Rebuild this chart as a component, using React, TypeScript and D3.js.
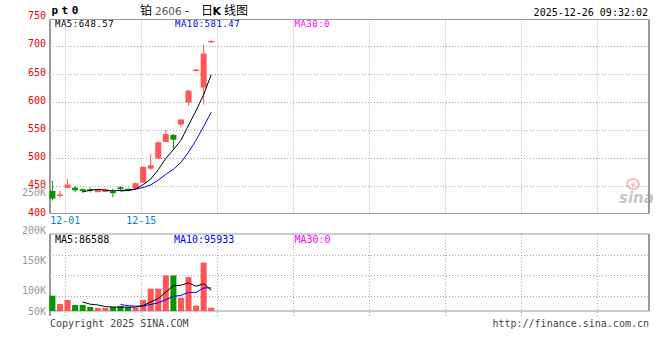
import React from "react";
import * as d3 from "d3";

// ---------- data ----------
const dates = ["11-27","11-28","12-01","12-02","12-03","12-04","12-05","12-08","12-09","12-10","12-11","12-12","12-15","12-16","12-17","12-18","12-19","12-22","12-23","12-24","12-25","12-26"];
const opens = [441.8,435.3,447.2,447.7,444.9,445.0,439.6,440.0,441.3,448.4,445.4,445.9,456.6,481.6,499.4,529.1,541.6,560.0,599.1,657.5,625.8,708.0];
const highs = [459.7,441.8,463.2,450.7,446.6,447.5,444.5,446.6,446.0,450.7,447.2,457.3,485.5,507.7,529.5,550.5,543.4,570.0,621.8,659.2,701.9,710.3];
const lows = [424.6,429.4,447.2,440.0,438.3,439.0,439.3,440.0,430.6,442.4,440.6,445.5,456.0,479.2,499.0,528.8,514.9,554.6,593.8,654.4,595.6,706.0];
const closes = [428.1,435.5,453.1,443.0,441.3,441.7,444.2,444.9,437.7,444.9,442.4,455.5,484.5,487.5,528.5,543.0,533.0,569.0,620.5,658.0,686.5,709.0];
const volumes = [63600,29000,45700,25000,25000,16600,12500,12500,16600,20800,16600,12500,45700,92700,92700,147600,147600,55300,141000,22000,201000,13600];

const priceTicks = [750,700,650,600,550,500,450,400];
const priceGrid = [700,650,600,550,500,450];
const volumeTickLabels = ["250K","200K","150K","100K","50K"];
const volumeTickValues = [250,200,150,100,50];
const dateTickLabels = ["12-01","12-15"];
const priceMaLabels = ["MA5:648.57","MA10:581.47","MA30:0"];
const volumeMaLabels = ["MA5:86588","MA10:95933","MA30:0"];

// ---------- layout ----------
const W = 660, H = 360;
const L = 50, R = 649;
const mainTop = 19.5, mainBottom = 213.5;
const volTop = 234, volBottom = 311;
const RED = "#ff5555", GREEN = "#009900";
const MONO = "'DejaVu Sans Mono', 'Liberation Mono', monospace";

function movingAverage(arr: number[], n: number): (number | null)[] {
  return arr.map((_, i) => (i < n - 1 ? null : d3.mean(arr.slice(i - n + 1, i + 1)) as number));
}

export default function App() {
  const x = d3.scaleLinear().domain([0, dates.length - 1]).range([52.4, 211.2]);
  const gridX = d3.scaleLinear().domain([0, 1]).range([65.3, 141.3]);
  const gridIdx = d3.range(8);
  const y = d3.scaleLinear().domain([400, 750]).range([214.4, 17.9]);
  const v = d3.scaleLinear().domain([0, 320000]).range([volBottom, volTop]);
  const vLabelY = d3.scaleLinear().domain(volumeTickValues).range([192, 230.5, 260, 290, 311]);
  const volGrid = [0.25, 0.5, 0.75].map((f) => volTop + f * 82.3);

  const ma5 = movingAverage(closes, 5);
  const ma10 = movingAverage(closes, 10);
  const vma5 = movingAverage(volumes, 5);
  const vma10 = movingAverage(volumes, 10);

  const priceLine = d3.line<number | null>()
    .defined((d) => d != null)
    .x((_, i) => x(i))
    .y((d) => y(d as number));
  const volLine = d3.line<number | null>()
    .defined((d) => d != null)
    .x((_, i) => x(i))
    .y((d) => v(d as number));

  const bw = 6;

  return (
    <svg width={W} height={H} style={{ position: "absolute", left: 0, top: 0, background: "#fff" }}
      fontFamily={MONO}>
      <rect x={0} y={0} width={W} height={H} fill="#fff" />

      {/* title */}
      <text x={51.5} y={14} fontSize={11} fontWeight="bold" letterSpacing={3.5} fill="#000">pt0</text>
      <text y={14.5} fontSize={12} fill="#000" fontFamily="'Noto Sans CJK SC', sans-serif">
        <tspan x={140}>铂</tspan>
        <tspan x={155} fontSize={10.5} fill="#555" fontFamily="'DejaVu Sans', sans-serif">2606</tspan>
        <tspan x={185}>-</tspan>
        <tspan x={201}>日</tspan>
        <tspan x={212.5} fontWeight="bold" fontFamily="'DejaVu Sans', sans-serif" fontSize={11}>K</tspan>
        <tspan x={224}>线图</tspan>
      </text>
      <text x={648} y={15.5} fontSize={10} textAnchor="end" fill="#000">2025-12-26 09:32:02</text>

      {/* main grid */}
      {priceGrid.map((p) => (
        <line key={"pg" + p} x1={L} x2={R} y1={Math.round(y(p)) + 0.5} y2={Math.round(y(p)) + 0.5}
          stroke="#aaa" strokeDasharray="1,2" />
      ))}
      {gridIdx.map((k) => (
        <line key={"vg" + k} x1={Math.round(gridX(k)) + 0.5} x2={Math.round(gridX(k)) + 0.5}
          y1={mainTop} y2={mainBottom} stroke="#aaa" strokeDasharray="1,2" />
      ))}
      {/* main border */}
      <line x1={L} x2={R} y1={mainTop} y2={mainTop} stroke="#999" />
      <line x1={L} x2={R} y1={mainBottom} y2={mainBottom} stroke="#999" />
      <line x1={L} x2={L} y1={mainTop} y2={mainBottom} stroke="#999" strokeWidth={2} />
      <line x1={R} x2={R} y1={mainTop} y2={mainBottom} stroke="#999" strokeWidth={2} />

      {/* sina watermark */}
      <g opacity={0.55}>
        <ellipse cx={633} cy={184} rx={6} ry={5} fill="none" stroke="#f08080" strokeWidth={2} />
        <circle cx={633} cy={185} r={1.8} fill="#f08080" />
        <text x={619} y={203} fontSize={15} fontStyle="italic" fontWeight="bold" fill="#999"
          fontFamily="'DejaVu Sans', sans-serif">sina</text>
      </g>

      {/* price axis labels */}
      {priceTicks.map((p) => (
        <text key={"pt" + p} x={46} y={y(p) - 2} dy="0.35em" textAnchor="end" fontSize={10} fill="#ee0000">{p}</text>
      ))}
      {/* volume axis labels */}
      {volumeTickLabels.map((t, i) => (
        <text key={"vt" + t} x={46} y={vLabelY(volumeTickValues[i])} dy="0.35em" textAnchor="end" fontSize={10} fill="#999">{t}</text>
      ))}

      {/* candles */}
      {dates.map((d, i) => {
        const up = closes[i] >= opens[i];
        const col = up ? RED : GREEN;
        const top = y(Math.max(opens[i], closes[i]));
        const bot = y(Math.min(opens[i], closes[i]));
        const h = Math.max(1.5, bot - top);
        return (
          <g key={"c" + d}>
            <line x1={x(i)} x2={x(i)} y1={y(highs[i])} y2={y(lows[i])} stroke={col} strokeWidth={1} />
            <rect x={x(i) - bw / 2} y={top} width={bw} height={h} fill={col} />
          </g>
        );
      })}

      {/* MA lines */}
      <path d={priceLine(ma10) || ""} fill="none" stroke="#0000ff" strokeWidth={1} />
      <path d={priceLine(ma5) || ""} fill="none" stroke="#000" strokeWidth={1} />

      {/* MA labels */}
      <text x={55} y={27} fontSize={9} letterSpacing={0.5} fill="#000">{priceMaLabels[0]}</text>
      <text x={175} y={27} fontSize={9} letterSpacing={0.5} fill="#0000ff">{priceMaLabels[1]}</text>
      <text x={294.5} y={27} fontSize={9} letterSpacing={0.5} fill="#ff00ff">{priceMaLabels[2]}</text>

      {/* date labels */}
      {dateTickLabels.map((t, k) => (
        <text key={"dt" + t} x={gridX(k)} y={224} textAnchor="middle" fontSize={10} fill="#0088cc">{t}</text>
      ))}

      {/* volume grid */}
      {volGrid.map((g, k) => (
        <line key={"vhg" + k} x1={L} x2={R} y1={Math.round(g) + 0.5} y2={Math.round(g) + 0.5} stroke="#aaa" strokeDasharray="1,2" />
      ))}
      {gridIdx.map((k) => (
        <line key={"vvg" + k} x1={Math.round(gridX(k)) + 0.5} x2={Math.round(gridX(k)) + 0.5}
          y1={volTop} y2={volBottom + 5} stroke="#aaa" strokeDasharray="1,2" />
      ))}
      <line x1={L} x2={R} y1={volTop} y2={volTop} stroke="#999" />
      <line x1={L} x2={R} y1={volBottom} y2={volBottom} stroke="#999" />
      <line x1={L} x2={L} y1={volTop} y2={volBottom + 5} stroke="#999" strokeWidth={2} />
      <line x1={R} x2={R} y1={volTop} y2={volBottom} stroke="#999" strokeWidth={2} />

      {/* volume bars */}
      {volumes.map((vol, i) => (
        <rect key={"vb" + i} x={x(i) - bw / 2} y={v(vol)} width={bw} height={volBottom - v(vol)}
          fill={closes[i] >= opens[i] ? RED : GREEN} />
      ))}
      <path d={volLine(vma10) || ""} fill="none" stroke="#0000ff" strokeWidth={1} />
      <path d={volLine(vma5) || ""} fill="none" stroke="#000" strokeWidth={1} />

      <text x={55} y={243} fontSize={10} fill="#000">{volumeMaLabels[0]}</text>
      <text x={174} y={243} fontSize={10} fill="#0000ff">{volumeMaLabels[1]}</text>
      <text x={294.5} y={243} fontSize={10} fill="#ff00ff">{volumeMaLabels[2]}</text>

      {/* footer */}
      <text x={50} y={326.5} fontSize={10} fill="#444">Copyright 2025 SINA.COM</text>
      <text x={649} y={326.5} fontSize={10} textAnchor="end" fill="#444">http://finance.sina.com.cn</text>
    </svg>
  );
}
